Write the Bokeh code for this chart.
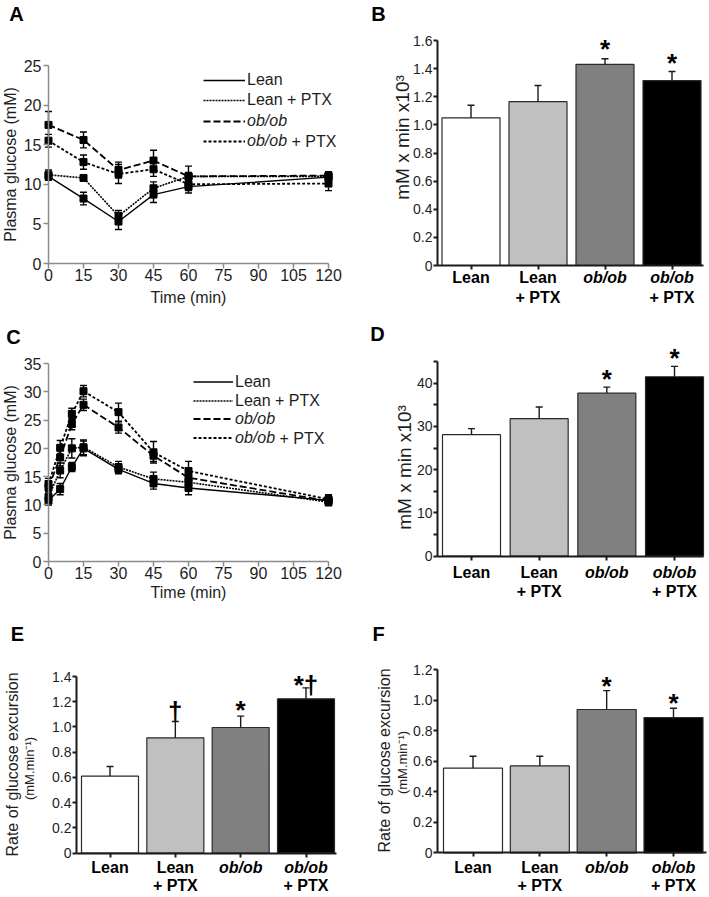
import math
from bokeh.plotting import figure
from bokeh.models import (ColumnDataSource, Whisker, TeeHead, Label, Legend, LegendItem,
                          FixedTicker, Range1d, PrintfTickFormatter)
from bokeh.layouts import column, row
from bokeh.embed import file_html
from bokeh.resources import INLINE

FONT = "Liberation Sans"

# ----------------------------- data -----------------------------
groups = ["Lean", "Lean + PTX", "ob/ob", "ob/ob + PTX"]
group_line1 = ["Lean", "Lean", "ob/ob", "ob/ob"]
group_line2 = ["", "+ PTX", "", "+ PTX"]

# Panel A: plasma glucose time course
itt_time = [0, 15, 30, 45, 60, 120]
itt_lean = [11.0, 8.2, 5.3, 8.7, 9.7, 10.9]
itt_lean_err = [0.5, 0.8, 1.0, 1.0, 0.8, 0.6]
itt_lean_ptx = [11.2, 10.8, 6.0, 9.5, 11.0, 11.0]
itt_lean_ptx_err = [0.6, 0.3, 0.7, 0.8, 0.5, 0.6]
itt_ob = [17.5, 15.6, 11.8, 13.0, 11.0, 11.1]
itt_ob_err = [1.7, 1.0, 1.0, 1.3, 1.3, 0.5]
itt_ob_ptx = [15.5, 12.8, 11.3, 11.9, 10.0, 10.1]
itt_ob_ptx_err = [0.8, 0.9, 1.2, 0.9, 0.8, 0.9]

# Panel C: plasma glucose time course
gtt_time = [0, 5, 10, 15, 30, 45, 60, 120]
gtt_lean = [10.8, 12.8, 16.7, 20.0, 16.3, 13.8, 13.0, 10.8]
gtt_lean_err = [0.8, 1.0, 0.8, 1.3, 0.8, 1.0, 1.2, 0.8]
gtt_lean_ptx = [11.4, 16.1, 20.0, 20.2, 16.7, 14.6, 14.0, 10.5]
gtt_lean_ptx_err = [1.0, 1.3, 1.7, 1.3, 1.0, 1.2, 1.0, 0.6]
gtt_ob = [13.1, 18.4, 24.3, 27.7, 23.7, 18.7, 14.8, 10.7]
gtt_ob_err = [1.0, 1.5, 1.0, 1.0, 1.0, 1.0, 1.0, 0.8]
gtt_ob_ptx = [13.7, 20.1, 26.1, 30.1, 26.4, 19.3, 16.0, 11.0]
gtt_ob_ptx_err = [1.0, 1.3, 1.0, 1.0, 1.6, 1.9, 1.7, 0.8]

time_ticks = [0, 15, 30, 45, 60, 75, 90, 105, 120]
itt_yticks = [0, 5, 10, 15, 20, 25]
gtt_yticks = [0, 5, 10, 15, 20, 25, 30, 35]

# Panel B: AUC
auc_b = [1.05, 1.165, 1.43, 1.315]
auc_b_err = [0.09, 0.115, 0.04, 0.065]
auc_b_sig = ["", "", "*", "*"]
auc_b_ticks = [0, 0.2, 0.4, 0.6, 0.8, 1.0, 1.2, 1.4, 1.6]

# Panel D: AUC
auc_d = [28.1, 31.8, 37.7, 41.5]
auc_d_err = [1.4, 2.7, 1.4, 2.4]
auc_d_sig = ["", "", "*", "*"]
auc_d_ticks = [0, 10, 20, 30, 40]
auc_d_minor = [5, 15, 25, 35, 45]

# Panel E: rate of glucose excursion
rate_e = [0.61, 0.914, 0.996, 1.223]
rate_e_err = [0.077, 0.13, 0.09, 0.087]
rate_e_sig = ["", "\u2020", "*", "*\u2020"]
rate_e_ticks = [0, 0.2, 0.4, 0.6, 0.8, 1.0, 1.2, 1.4]

# Panel F: rate of glucose excursion
rate_f = [0.554, 0.569, 0.938, 0.885]
rate_f_err = [0.078, 0.063, 0.124, 0.061]
rate_f_sig = ["", "", "*", "*"]
rate_f_ticks = [0, 0.2, 0.4, 0.6, 0.8, 1.0, 1.2]

auc_label = "mM x min x10\u00b3"
rate_label = "Rate of glucose excursion"
rate_label2 = "(mM.min\u207b\u00b9)"

# ----------------------------- styles -----------------------------
BAR_COLORS = ["white", "#c0c0c0", "#808080", "black"]
LINE_STYLES = [("solid", 1.4), ("2 1", 1.6), ("7 3", 1.8), ("3 2", 1.8)]


def xrange_from(d0, p0, d1, p1, W):
    s = (p1 - p0) / (d1 - d0)
    return Range1d(d0 - p0 / s, d0 + (W - p0) / s)


def yrange_from(d0, p0, d1, p1, H):
    s = (p0 - p1) / (d1 - d0)
    return Range1d(d0 - (H - p0) / s, d0 + p0 / s)


def x_at(rng, W, px):
    return rng.start + (rng.end - rng.start) * px / W


def base_fig(W, H, xr, yr):
    p = figure(width=W, height=H, x_range=xr, y_range=yr,
               output_backend="svg", toolbar_location=None,
               min_border_left=0, min_border_right=0,
               min_border_top=0, min_border_bottom=0)
    p.title.visible = False
    p.xgrid.visible = False
    p.ygrid.visible = False
    p.outline_line_color = None
    p.background_fill_color = "white"
    p.border_fill_color = "white"
    return p


def style_axis(ax, color, width, label_size, tick_out, standoff):
    ax.axis_line_color = color
    ax.axis_line_width = width
    ax.major_tick_line_color = color
    ax.major_tick_line_width = width
    ax.major_tick_out = tick_out
    ax.major_tick_in = 0
    ax.minor_tick_line_color = color
    ax.minor_tick_line_width = width
    ax.minor_tick_out = tick_out
    ax.minor_tick_in = 0
    ax.major_label_text_font = FONT
    ax.major_label_text_font_size = label_size
    ax.major_label_text_color = "#1e1e1e"
    ax.major_label_standoff = standoff
    ax.axis_label_text_font = FONT
    ax.axis_label_text_font_style = "normal"
    ax.axis_label_text_color = "#1e1e1e"
    ax.axis_label_text_font_size = "16px"


def screen_label(p, x, y, text, **kw):
    args = dict(x=x, y=y, x_units="screen", y_units="screen", text=text,
                text_font=FONT, text_align="center", text_baseline="middle",
                text_color="#1e1e1e")
    args.update(kw)
    p.add_layout(Label(**args))


def time_panel(W, H, letter, letter_xy, times, vals, errs, y_top, y_top_px, y0_px,
               yticks, leg, time_standoff):
    xr = xrange_from(0, 48, 120, 328, W)
    yr = yrange_from(0, y0_px, y_top, y_top_px, H)
    p = base_fig(W, H, xr, yr)
    p.xaxis.ticker = FixedTicker(ticks=time_ticks, minor_ticks=[])
    p.yaxis.ticker = FixedTicker(ticks=yticks, minor_ticks=[])
    style_axis(p.xaxis[0], "#8c8c8c", 1.5, "16px", 5, 0)
    style_axis(p.yaxis[0], "#8c8c8c", 1.5, "16px", 5, 2)
    p.xaxis.fixed_location = 0
    p.yaxis.fixed_location = 0
    p.xaxis.bounds = (0, 120)
    p.yaxis.bounds = (0, y_top)
    p.xaxis.axis_label = "Time (min)"
    p.xaxis.axis_label_standoff = time_standoff
    p.yaxis.axis_label = "Plasma glucose (mM)"
    p.yaxis.axis_label_standoff = 2

    lines, dots = [], []
    for v, e, (dash, lw) in zip(vals, errs, LINE_STYLES):
        src = ColumnDataSource(dict(t=times, v=v,
                                    lo=[a - b for a, b in zip(v, e)],
                                    hi=[a + b for a, b in zip(v, e)]))
        lr = p.line("t", "v", source=src, line_color="black", line_width=lw, line_dash=dash)
        p.scatter("t", "v", source=src, marker="square", size=7, color="black")
        p.add_layout(Whisker(source=src, base="t", lower="lo", upper="hi",
                             line_color="black", line_width=1.4,
                             upper_head=TeeHead(size=7, line_width=1.4, line_color="black"),
                             lower_head=TeeHead(size=7, line_width=1.4, line_color="black")))
        dr = p.scatter(x=[], y=[], marker="circle", size=7, color="black")
        lines.append(lr)
        dots.append(dr)

    rh = leg["row_h"]
    common = dict(glyph_width=leg["glyph_w"], glyph_height=rh, label_height=rh,
                  label_standoff=2, spacing=0, padding=0, margin=0,
                  border_line_alpha=0, background_fill_alpha=0,
                  label_text_font=FONT, label_text_font_size="16px",
                  label_text_color="#1e1e1e")
    leg1 = Legend(items=[LegendItem(label=groups[0], renderers=[lines[0], dots[0]]),
                         LegendItem(label=groups[1], renderers=[lines[1], dots[1]])],
                  location=(leg["x"], H - leg["top1"] - 2 * rh), **common)
    leg2 = Legend(items=[LegendItem(label=group_line1[2], renderers=[lines[2], dots[2]]),
                         LegendItem(label=group_line1[3], renderers=[lines[3], dots[3]])],
                  location=(leg["x"], H - leg["top2"] - 2 * rh),
                  label_text_font_style="italic", **common)
    p.add_layout(leg1)
    p.add_layout(leg2)
    screen_label(p, leg["plus_x"], H - leg["top2"] - 1.5 * rh, group_line2[3],
                 text_font_size="16px", text_align="left")
    screen_label(p, letter_xy[0], H - letter_xy[1], letter,
                 text_font_size="20px", text_font_style="bold", text_color="black")
    return p


def bar_panel(W, H, letter, letter_xy, vals, errs, sigs, sig_off, y_top, y_top_px, y0_px,
              x1_px, x4_px, axis_px, end_px, bar_px, yticks, minor, ylabels, cat_y,
              decimals):
    xr = xrange_from(1, x1_px, 4, x4_px, W)
    yr = yrange_from(0, y0_px, y_top, y_top_px, H)
    p = base_fig(W, H, xr, yr)
    xs = [1, 2, 3, 4]
    unit = (x4_px - x1_px) / 3
    src = ColumnDataSource(dict(x=xs, v=vals, hi=[a + b for a, b in zip(vals, errs)],
                                color=BAR_COLORS))
    p.vbar(x="x", top="v", width=bar_px / unit, source=src, fill_color="color",
           line_color="#2a2a2a", line_width=1.2)
    p.add_layout(Whisker(source=src, base="x", lower="v", upper="hi",
                         line_color="#1a1a1a", line_width=1.4, level="overlay",
                         upper_head=TeeHead(size=7, line_width=1.4, line_color="#1a1a1a"),
                         lower_head=None))
    x_axis_pos = x_at(xr, W, axis_px)
    p.xaxis.ticker = FixedTicker(ticks=xs, minor_ticks=[])
    p.yaxis.ticker = FixedTicker(ticks=yticks, minor_ticks=minor)
    style_axis(p.xaxis[0], "#1a1a1a", 2, "14px", 4, 0)
    style_axis(p.yaxis[0], "#1a1a1a", 2, "14px", 4, 1)
    p.xaxis.major_label_overrides = {1: "", 2: "", 3: "", 4: ""}
    if decimals:
        p.yaxis.formatter = PrintfTickFormatter(format="%.1f")
    p.yaxis.major_label_overrides = {0: "0"}
    p.xaxis.fixed_location = 0
    p.yaxis.fixed_location = x_axis_pos
    p.xaxis.bounds = (x_axis_pos, x_at(xr, W, end_px))
    p.yaxis.bounds = (0, y_top)
    for (text, lx, ly, size) in ylabels:
        screen_label(p, lx, H - ly, text, text_font_size=size, angle=math.pi / 2)
    for x, v, e, s, off in zip(xs, vals, errs, sigs, sig_off):
        if s:
            p.add_layout(Label(x=x, y=v + e, text=s, y_offset=off,
                               text_font=FONT, text_font_size="26px",
                               text_font_style="bold", text_align="center",
                               text_baseline="alphabetic", text_color="black"))
    for x, l1, l2 in zip(xs, group_line1, group_line2):
        style = "bold italic" if "ob" in l1 else "bold"
        p.add_layout(Label(x=x, y=H - cat_y[0], y_units="screen", text=l1,
                           text_font=FONT, text_font_size="16px", text_font_style=style,
                           text_align="center", text_baseline="middle", text_color="black"))
        if l2:
            p.add_layout(Label(x=x, y=H - cat_y[1], y_units="screen", text=l2,
                               text_font=FONT, text_font_size="16px",
                               text_font_style="bold", text_align="center",
                               text_baseline="middle", text_color="black"))
    screen_label(p, letter_xy[0], H - letter_xy[1], letter,
                 text_font_size="20px", text_font_style="bold", text_color="black")
    return p


LW, RW = 360, 349
H1, H2, H3 = 312, 294, 291

pA = time_panel(LW, H1, "A", (16, 13), itt_time,
                [itt_lean, itt_lean_ptx, itt_ob, itt_ob_ptx],
                [itt_lean_err, itt_lean_ptx_err, itt_ob_err, itt_ob_ptx_err],
                25, 65, 263, itt_yticks,
                dict(x=203, top1=70, top2=111, row_h=20, glyph_w=42, plus_x=291), 5)
pC = time_panel(LW, H2, "C", (13, 24), gtt_time,
                [gtt_lean, gtt_lean_ptx, gtt_ob, gtt_ob_ptx],
                [gtt_lean_err, gtt_lean_ptx_err, gtt_ob_err, gtt_ob_ptx_err],
                35, 51, 249, gtt_yticks,
                dict(x=193, top1=60, top2=97, row_h=19, glyph_w=40, plus_x=279), 2)
pB = bar_panel(RW, H1, "B", (18, 13), auc_b, auc_b_err, auc_b_sig, [0, 0, 10, 8],
               1.6, 40, 265, 110.5, 311.5, 77, 343, 58, auc_b_ticks, [],
               [(auc_label, 42, 137, "19px")], (277, 297), True)
pD = bar_panel(RW, H2, "D", (17, 21), auc_d, auc_d_err, auc_d_sig, [0, 0, 8, 8],
               45, 49.1, 243.7, 111, 314, 77, 343, 58, auc_d_ticks, auc_d_minor,
               [(auc_label, 44, 155, "19px")], (259.7, 279), False)
pE = bar_panel(LW, H3, "E", (17, 27), rate_e, rate_e_err, rate_e_sig, [0, 10, 6, 3],
               1.4, 70, 246.7, 109.5, 305.5, 76, 336, 57, rate_e_ticks, [],
               [(rate_label, 12, 158, "16px"), (rate_label2, 29, 162, "13px")], (261, 279),
               True)
pF = bar_panel(RW, H3, "F", (18, 27), rate_f, rate_f_err, rate_f_sig, [0, 0, 5, 5],
               1.2, 63, 246.3, 112.5, 313, 77, 346, 59, rate_f_ticks, [],
               [(rate_label, 24, 154, "16px"), (rate_label2, 42, 156, "13px")], (261, 279),
               True)

layout = column(row(pA, pB), row(pC, pD), row(pE, pF))
open("out.html", "w").write(file_html(layout, INLINE))
